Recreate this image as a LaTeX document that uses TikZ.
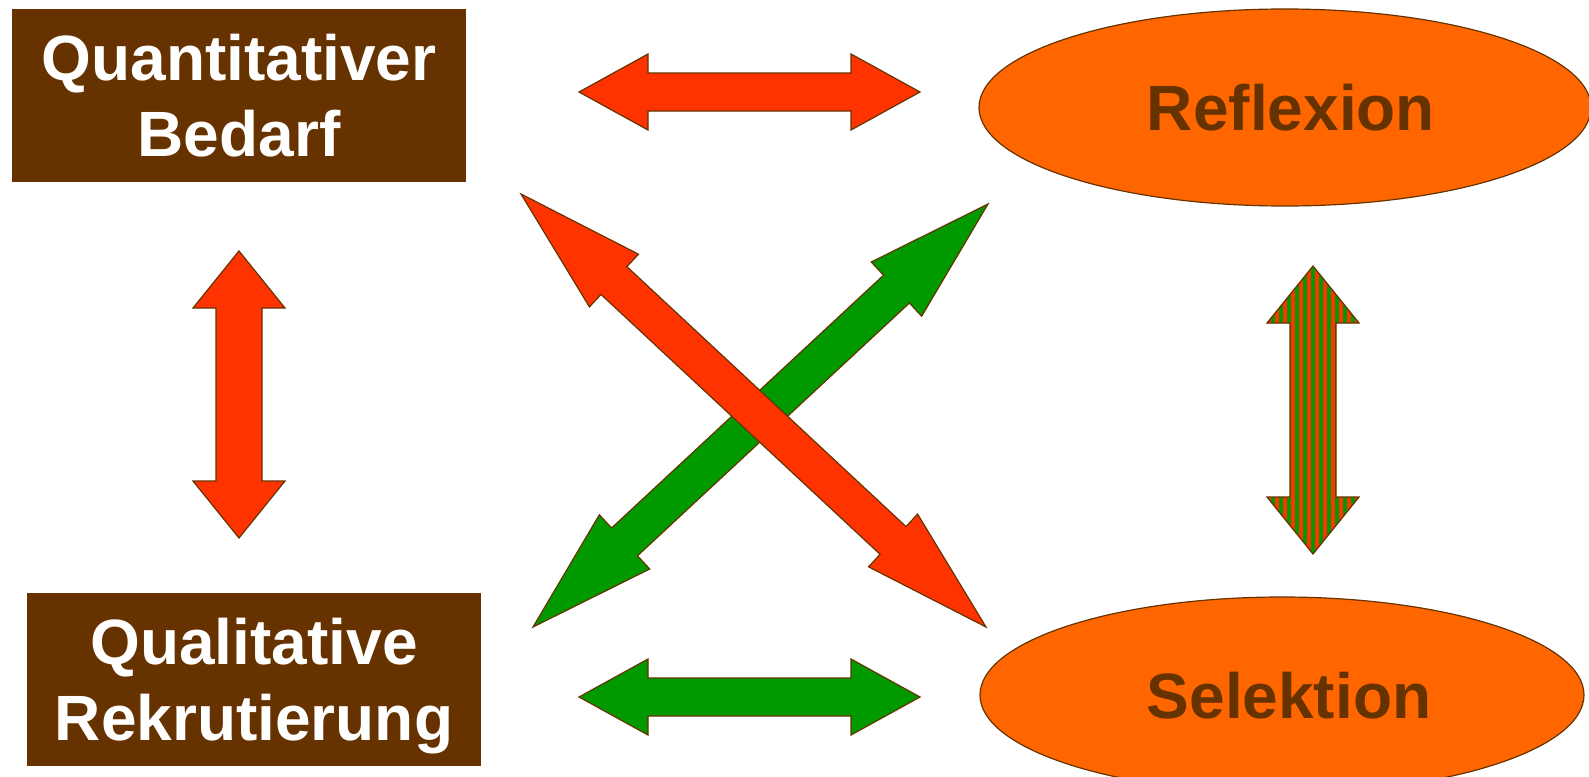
\documentclass[tikz,border=0pt]{standalone}
\usepackage{fontspec}
\setmainfont{Liberation Sans}
\usetikzlibrary{calc,shapes.geometric}

\definecolor{darkbrown}{HTML}{663300}
\definecolor{arrowred}{HTML}{FF3300}
\definecolor{arrowgreen}{HTML}{009900}
\definecolor{ovalorange}{HTML}{FF6600}

% block arrow with two heads: options, tip, tip, shaft half width, head half width, head length
\newcommand{\dblarrow}[6]{%
  \path[#1] (#2) -- ($(#2)!#6!(#3)!#5!90:(#3)$) -- ($(#2)!#6!(#3)!#4!90:(#3)$)
    -- ($(#3)!#6!(#2)!#4!-90:(#2)$) -- ($(#3)!#6!(#2)!#5!-90:(#2)$) -- (#3)
    -- ($(#3)!#6!(#2)!#5!90:(#2)$) -- ($(#3)!#6!(#2)!#4!90:(#2)$)
    -- ($(#2)!#6!(#3)!#4!-90:(#3)$) -- ($(#2)!#6!(#3)!#5!-90:(#3)$) -- cycle;}

\tikzset{
  brownbox/.style={fill=darkbrown,text=white,inner sep=0pt,align=center,
    minimum width=454pt,minimum height=173pt,text depth=0pt,
    font=\fontsize{64}{76}\selectfont\bfseries},
  oval/.style={ellipse,draw=darkbrown,line width=1.2pt,fill=ovalorange,text=darkbrown,
    inner sep=0pt,text depth=0pt,font=\fontsize{64}{76}\selectfont\bfseries},
  outline/.style={draw=darkbrown,line width=1.2pt}
}

\begin{document}
\begin{tikzpicture}[x=1pt,y=-1pt]
    \useasboundingbox (0,0) rectangle (1589,776);
    % the four blocks
    \node[brownbox] (bedarf) at (239,95.5) {Quantitativer\\Bedarf};
    \node[brownbox] (rekrut) at (254,679.5) {Qualitative\\Rekrutierung};
    \node[oval,minimum width=612pt,minimum height=197pt] (reflexion) at (1285,107.5) {\hspace*{12pt}Reflexion};
    \node[oval,minimum width=604pt,minimum height=196pt] (selektion) at (1282,695) {\hspace*{14pt}Selektion};
    % arrow tips
    \coordinate (top-l) at (579,92);
    \coordinate (top-r) at (920,92);
    \coordinate (bot-l) at (579,697);
    \coordinate (bot-r) at (920,697);
    \coordinate (left-t) at (239,251);
    \coordinate (left-b) at (239,538);
    \coordinate (right-t) at (1313,266);
    \coordinate (right-b) at (1313,554);
    \coordinate (red-a) at (521,194);
    \coordinate (red-b) at (986,627);
    \coordinate (green-a) at (988,204);
    \coordinate (green-b) at (533,627);
    % straight arrows
    \dblarrow{outline,fill=arrowred}{top-l}{top-r}{19pt}{38pt}{69pt}
    \dblarrow{outline,fill=arrowgreen}{bot-l}{bot-r}{19pt}{38pt}{69pt}
    \dblarrow{outline,fill=arrowred}{left-t}{left-b}{23pt}{46pt}{57pt}
    % striped arrow
    \begin{scope}
        \dblarrow{clip}{right-t}{right-b}{23pt}{46pt}{57pt}
        \fill[arrowgreen] (1260,260) rectangle (1366,560);
        \foreach \s in {0,...,12}{
        \fill[arrowred] (1267+8*\s,260) rectangle (1271+8*\s,560);
        }
    \end{scope}
    \dblarrow{outline}{right-t}{right-b}{23pt}{46pt}{57pt}
    % crossing arrows
    \dblarrow{outline,fill=arrowgreen}{green-a}{green-b}{19pt}{37pt}{125pt}
    \dblarrow{outline,fill=arrowred}{red-a}{red-b}{19pt}{36pt}{127pt}
\end{tikzpicture}
\end{document}
